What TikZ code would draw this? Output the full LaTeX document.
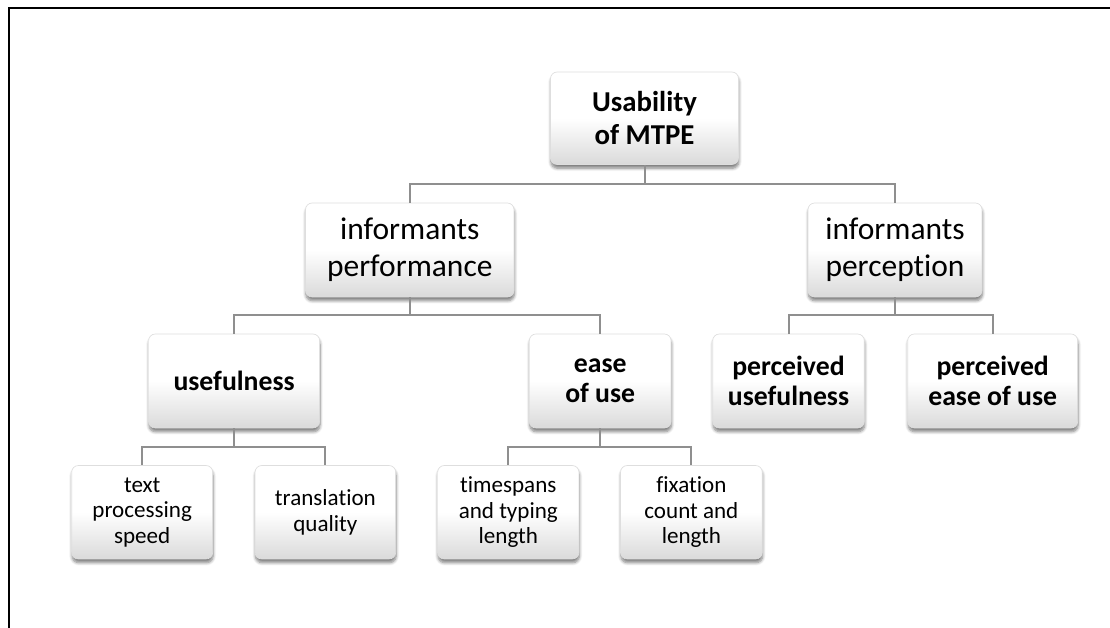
\documentclass[tikz,border=0pt]{standalone}
\usepackage{fontspec}
\setmainfont{Carlito}[Ligatures=NoCommon]
\usetikzlibrary{shadows.blur}
\definecolor{conncol}{HTML}{8F8F8F}
\definecolor{boxbot}{HTML}{DADADA}
\tikzset{
  box/.style={rectangle, rounded corners=5pt, draw=black!13, line width=0.5pt,
    top color=white, bottom color=boxbot, middle color=white, align=center, inner sep=0pt,
    blur shadow={shadow blur steps=6, shadow xshift=0.3pt, shadow yshift=-2.8pt, shadow opacity=50, shadow blur radius=2.2pt}},
  rootbox/.style={box, minimum width=141pt, minimum height=69.4pt,
    font=\fontsize{21.6}{24.75}\selectfont\bfseries},
  lvlone/.style={box, minimum height=70.5pt, font=\fontsize{23.6}{27.5}\selectfont},
  lvltwo/.style={box, minimum height=70.5pt, font=\fontsize{20.8}{22.5}\selectfont\bfseries},
  lvlthree/.style={box, minimum height=70.1pt, font=\fontsize{17.3}{19}\selectfont},
  conn/.style={draw=conncol, line width=1.5pt},
  frameline/.style={draw=black, line width=1.6pt}
}
\begin{document}
\begin{tikzpicture}[x=0.75pt, y=-0.75pt]
\useasboundingbox (0,0) rectangle (1110,628);
\draw[frameline] (8.7,628) -- (8.7,7.7) -- (1110,7.7);

\coordinate (b1) at (0,184);
\coordinate (b2) at (0,315);
\coordinate (b3) at (0,447);

\node[rootbox] (root) at (644.5,118.25) {Usability\\of MTPE};

\node[lvlone, minimum width=156.4pt] (perf) at (409.75,250) {informants\\performance};
\node[lvlone, minimum width=130.5pt] (percep) at (895,250) {informants\\perception};

\node[lvltwo, minimum width=128.25pt] (usef) at (234.1,381) {usefulness};
\node[lvltwo, minimum width=106.3pt] (ease) at (600.2,381) {ease\\of use};
\node[lvltwo, minimum width=113.7pt] (pusef) at (788.5,381) {perceived\\usefulness};
\node[lvltwo, minimum width=127.5pt] (pease) at (992.7,381) {perceived\\ease of use};

\node[lvlthree, minimum width=105.75pt] (speed) at (142.2,512.25) {text\\processing\\speed};
\node[lvlthree, minimum width=105.5pt] (quality) at (325.4,512.25) {translation\\quality};
\node[lvlthree, minimum width=106pt] (times) at (508.3,512.25) {timespans\\and typing\\length};
\node[lvlthree, minimum width=106.3pt] (fix) at (691.4,512.25) {fixation\\count and\\length};

\draw[conn] (root.south) -- (root.south |- b1) -| (perf.north);
\draw[conn] (root.south |- b1) -| (percep.north);

\draw[conn] (perf.south) -- (perf.south |- b2) -| (usef.north);
\draw[conn] (perf.south |- b2) -| (ease.north);

\draw[conn] (percep.south) -- (percep.south |- b2) -| (pusef.north);
\draw[conn] (percep.south |- b2) -| (pease.north);

\draw[conn] (usef.south) -- (usef.south |- b3) -| (speed.north);
\draw[conn] (usef.south |- b3) -| (quality.north);

\draw[conn] (ease.south) -- (ease.south |- b3) -| (times.north);
\draw[conn] (ease.south |- b3) -| (fix.north);
\end{tikzpicture}
\end{document}
